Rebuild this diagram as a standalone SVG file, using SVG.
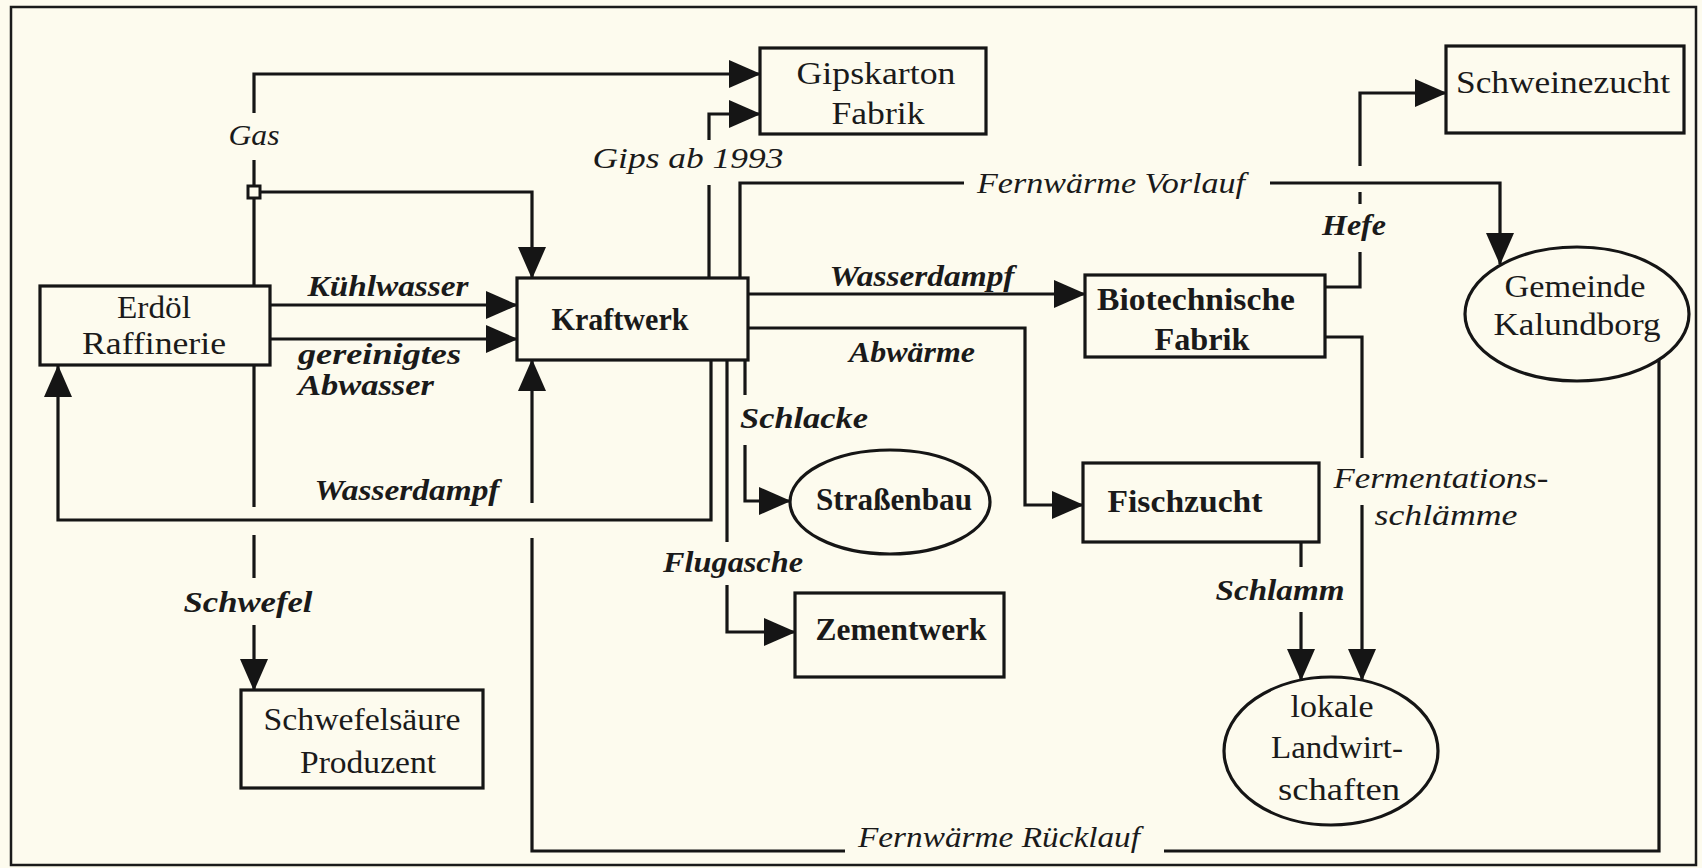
<svg xmlns="http://www.w3.org/2000/svg" width="1702" height="868" viewBox="0 0 1702 868">
<style>
.bg{fill:#fdfbee}
.frame{fill:none;stroke:#1a1a1a;stroke-width:2.5}
.box{fill:#fdfbee;stroke:#151515;stroke-width:3.2}
.ln{fill:none;stroke:#151515;stroke-width:3.2}
.arr{marker-end:url(#ah)}
.nt{font-family:"Liberation Serif","Times New Roman",serif;font-size:32px;fill:#1a1a1a;text-anchor:middle}
.nb{font-weight:bold}
.lb{font-family:"Liberation Serif","Times New Roman",serif;font-size:29px;font-style:italic;fill:#1a1a1a;text-anchor:middle}
.lbb{font-weight:bold}
</style>
<defs>
<marker id="ah" markerUnits="userSpaceOnUse" viewBox="0 0 32 28" markerWidth="32" markerHeight="28" refX="31" refY="14" orient="auto">
<path d="M0,0 L32,14 L0,28 Z" fill="#151515"/>
</marker>
</defs>
<rect class="bg" x="0" y="0" width="1702" height="868"/>
<rect class="frame" x="11" y="7" width="1685" height="858"/>

<g id="connectors">
<!-- Gas -->
<path class="ln" d="M254,286 V160"/>
<path class="ln arr" d="M254,113 V74 H760"/>
<path class="ln arr" d="M260,192 H532 V278"/>
<rect x="248" y="186" width="12" height="12" fill="#fdfbee" stroke="#151515" stroke-width="3"/>
<!-- Kuehlwasser / Abwasser -->
<path class="ln arr" d="M270,305 H517"/>
<path class="ln arr" d="M270,339 H517"/>
<!-- Wasserdampf return -->
<path class="ln arr" d="M711,360 V520 H58 V366"/>
<!-- Schwefel -->
<path class="ln" d="M254,366 V507"/>
<path class="ln" d="M254,535 V578"/>
<path class="ln arr" d="M254,625 V690"/>
<!-- Fernwaerme Ruecklauf -->
<path class="ln" d="M1659,358 V851 H1164"/>
<path class="ln" d="M845,851 H532 V538"/>
<path class="ln arr" d="M532,503 V360"/>
<!-- Gips ab 1993 -->
<path class="ln" d="M709,278 V185"/>
<path class="ln arr" d="M709,140 V114 H760"/>
<!-- Fernwaerme Vorlauf -->
<path class="ln" d="M740,278 V183 H964"/>
<path class="ln arr" d="M1270,183 H1500 V264"/>
<!-- Wasserdampf to Bio -->
<path class="ln arr" d="M748,294 H1085"/>
<!-- Abwaerme -->
<path class="ln arr" d="M748,328 H1025 V505 H1083"/>
<!-- Schlacke -->
<path class="ln" d="M745,360 V395"/>
<path class="ln arr" d="M745,445 V501 H790"/>
<!-- Flugasche -->
<path class="ln" d="M727,360 V542"/>
<path class="ln arr" d="M727,585 V632 H795"/>
<!-- Hefe -->
<path class="ln" d="M1325,287 H1360 V252"/>
<path class="ln" d="M1360,204 V192"/>
<path class="ln arr" d="M1360,166 V93 H1446"/>
<!-- Fermentationsschlaemme -->
<path class="ln" d="M1325,337 H1362 V458"/>
<path class="ln arr" d="M1362,505 V680"/>
<!-- Schlamm -->
<path class="ln" d="M1301,543 V567"/>
<path class="ln arr" d="M1301,612 V680"/>
</g>

<g id="edge-labels">
<text class="lb" x="254" y="145" textLength="51" lengthAdjust="spacingAndGlyphs">Gas</text>
<text class="lb lbb" x="388" y="296" textLength="161" lengthAdjust="spacingAndGlyphs">Kühlwasser</text>
<text class="lb lbb" x="298" y="364" textLength="163" lengthAdjust="spacingAndGlyphs" style="text-anchor:start">gereinigtes</text>
<text class="lb lbb" x="298" y="395" textLength="136" lengthAdjust="spacingAndGlyphs" style="text-anchor:start">Abwasser</text>
<text class="lb lbb" x="407" y="500" textLength="185" lengthAdjust="spacingAndGlyphs">Wasserdampf</text>
<text class="lb lbb" x="248" y="612" textLength="129" lengthAdjust="spacingAndGlyphs">Schwefel</text>
<text class="lb" x="688" y="168" textLength="191" lengthAdjust="spacingAndGlyphs">Gips ab 1993</text>
<text class="lb" x="1111" y="193" textLength="268" lengthAdjust="spacingAndGlyphs">Fernwärme Vorlauf</text>
<text class="lb lbb" x="922" y="286" textLength="185" lengthAdjust="spacingAndGlyphs">Wasserdampf</text>
<text class="lb lbb" x="912" y="362" textLength="126" lengthAdjust="spacingAndGlyphs">Abwärme</text>
<text class="lb lbb" x="804" y="428" textLength="128" lengthAdjust="spacingAndGlyphs">Schlacke</text>
<text class="lb lbb" x="733" y="572" textLength="140" lengthAdjust="spacingAndGlyphs">Flugasche</text>
<text class="lb lbb" x="1354" y="235" textLength="64" lengthAdjust="spacingAndGlyphs">Hefe</text>
<text class="lb" x="1441" y="488" textLength="215" lengthAdjust="spacingAndGlyphs">Fermentations-</text>
<text class="lb" x="1446" y="525" textLength="143" lengthAdjust="spacingAndGlyphs">schlämme</text>
<text class="lb lbb" x="1280" y="600" textLength="129" lengthAdjust="spacingAndGlyphs">Schlamm</text>
<text class="lb" x="999" y="847" textLength="282" lengthAdjust="spacingAndGlyphs">Fernwärme Rücklauf</text>
</g>

<g id="erdoel-raffinerie">
<rect class="box" x="40" y="286" width="230" height="79"/>
<text class="nt" x="154" y="318" textLength="74" lengthAdjust="spacingAndGlyphs">Erdöl</text>
<text class="nt" x="154" y="354" textLength="144" lengthAdjust="spacingAndGlyphs">Raffinerie</text>
</g>
<g id="kraftwerk">
<rect class="box" x="517" y="278" width="231" height="82"/>
<text class="nt nb" x="620" y="330" textLength="137" lengthAdjust="spacingAndGlyphs">Kraftwerk</text>
</g>
<g id="gipskarton-fabrik">
<rect class="box" x="760" y="48" width="226" height="86"/>
<text class="nt" x="876" y="84" textLength="159" lengthAdjust="spacingAndGlyphs">Gipskarton</text>
<text class="nt" x="878" y="124" textLength="93" lengthAdjust="spacingAndGlyphs">Fabrik</text>
</g>
<g id="schwefelsaeure-produzent">
<rect class="box" x="241" y="690" width="242" height="98"/>
<text class="nt" x="362" y="730" textLength="197" lengthAdjust="spacingAndGlyphs">Schwefelsäure</text>
<text class="nt" x="368" y="773" textLength="136" lengthAdjust="spacingAndGlyphs">Produzent</text>
</g>
<g id="biotechnische-fabrik">
<rect class="box" x="1085" y="275" width="240" height="82"/>
<text class="nt nb" x="1196" y="310" textLength="198" lengthAdjust="spacingAndGlyphs">Biotechnische</text>
<text class="nt nb" x="1202" y="350" textLength="95" lengthAdjust="spacingAndGlyphs">Fabrik</text>
</g>
<g id="fischzucht">
<rect class="box" x="1083" y="463" width="236" height="79"/>
<text class="nt nb" x="1185" y="512" textLength="155" lengthAdjust="spacingAndGlyphs">Fischzucht</text>
</g>
<g id="strassenbau">
<ellipse class="box" cx="890" cy="502" rx="100" ry="52"/>
<text class="nt nb" x="894" y="510" textLength="156" lengthAdjust="spacingAndGlyphs">Straßenbau</text>
</g>
<g id="zementwerk">
<rect class="box" x="795" y="593" width="209" height="84"/>
<text class="nt nb" x="901" y="640" textLength="171" lengthAdjust="spacingAndGlyphs">Zementwerk</text>
</g>
<g id="schweinezucht">
<rect class="box" x="1446" y="46" width="238" height="87"/>
<text class="nt" x="1563" y="93" textLength="214" lengthAdjust="spacingAndGlyphs">Schweinezucht</text>
</g>
<g id="gemeinde-kalundborg">
<ellipse class="box" cx="1577" cy="314" rx="112" ry="67"/>
<text class="nt" x="1575" y="297" textLength="141" lengthAdjust="spacingAndGlyphs">Gemeinde</text>
<text class="nt" x="1577" y="335" textLength="167" lengthAdjust="spacingAndGlyphs">Kalundborg</text>
</g>
<g id="lokale-landwirtschaften">
<ellipse class="box" cx="1331" cy="751" rx="107" ry="74"/>
<text class="nt" x="1332" y="717" textLength="83" lengthAdjust="spacingAndGlyphs">lokale</text>
<text class="nt" x="1337" y="758" textLength="132" lengthAdjust="spacingAndGlyphs">Landwirt-</text>
<text class="nt" x="1339" y="800" textLength="122" lengthAdjust="spacingAndGlyphs">schaften</text>
</g>
</svg>
